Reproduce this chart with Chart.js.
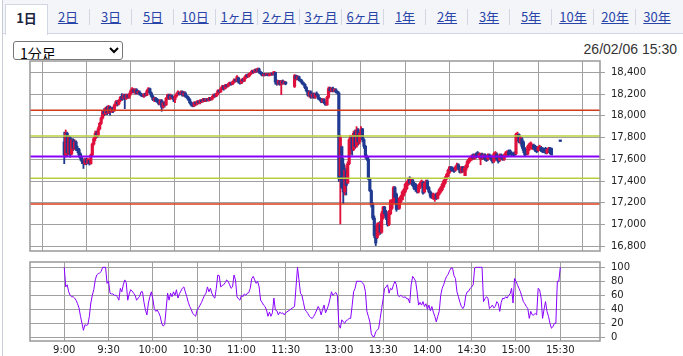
<!DOCTYPE html>
<html><head><meta charset="utf-8">
<script src="https://cdn.jsdelivr.net/npm/chart.js@4.4.1/dist/chart.umd.min.js"></script>
<style>
html,body{margin:0;padding:0;background:#fff;width:683px;height:356px;overflow:hidden;font-family:"Liberation Sans",Arial,sans-serif;}
#page{position:relative;width:683px;height:356px;}
#leftline{position:absolute;left:2px;top:0;width:1px;height:356px;background:#c9cdd8;}
#tabs{position:absolute;left:3px;top:0;width:680px;height:33px;background:#f4f5f9;border-bottom:1px solid #d2d6e2;}
.tab{position:absolute;top:9px;height:16px;width:42px;text-align:center;font:13px/16px "Noto Sans CJK JP",sans-serif;color:#2a45a8;}
.tab span{text-decoration:underline;}
.tab.sep{border-left:1px solid #d2d6e2;}
.tab.active{top:4px;height:30px;width:41px;background:#fff;border:1px solid #d2d6e2;border-bottom:none;line-height:26px;color:#1a2340;font-weight:bold;}
.tab.active span{text-decoration:none;}
#sel{position:absolute;left:13px;top:41px;width:110px;height:19px;font:14px "Noto Sans CJK JP",sans-serif;padding:0 2px;border:1px solid #767676;border-radius:3px;background:#fff;color:#000;}
#date{position:absolute;right:6px;top:41px;font:14px "Liberation Sans",Arial,sans-serif;color:#333;}
canvas{position:absolute;left:0;}
</style></head>
<body><div id="page">
<div id="tabs"></div>
<div id="leftline"></div>
<select id="sel"><option>1分足</option></select>
<div id="date">26/02/06 15:30</div>
<canvas id="c1" width="683" height="200" style="top:55px"></canvas>
<canvas id="c2" width="683" height="100" style="top:256px"></canvas>
</div>
<script>
// ---------- data ----------
const tabLabels = ['1日','2日','3日','5日','10日','1ヶ月','2ヶ月','3ヶ月','6ヶ月','1年','2年','3年','5年','10年','20年','30年'];
const timeLabels = ['9:00','9:30','10:00','10:30','11:00','11:30','13:00','13:30','14:00','14:30','15:00','15:30'];
const priceTicks = [16800,17000,17200,17400,17600,17800,18000,18200,18400];
const oscTicks = [0,20,40,60,80,100];
const levelValues = [18052,17815,17625,17425,17190];

// morning session, one entry per minute from 9:00
const amOpen = [
17760,17640,17840,17660,17800,17650,17780,17700,17760,17700,
17690,17650,17610,17580,17560,17600,17570,17590,17560,17640,
17740,17790,17840,17820,17880,17930,17980,18040,18020,18070,
18030,18080,18040,18070,18050,18100,18120,18110,18140,18180,
18160,18190,18160,18190,18170,18200,18220,18240,18220,18240,
18210,18220,18200,18190,18180,18200,18190,18230,18250,18210,
18180,18150,18160,18140,18130,18110,18140,18080,18120,18100,
18160,18190,18160,18180,18170,18150,18180,18200,18210,18200,
18220,18190,18210,18180,18170,18150,18120,18100,18090,18120,
18110,18130,18120,18140,18130,18150,18140,18150,18140,18160,
18150,18170,18190,18180,18200,18230,18220,18250,18270,18250,
18280,18270,18290,18300,18290,18310,18330,18320,18350,18310,
18300,18330,18320,18350,18370,18360,18380,18390,18410,18400,
18420,18410,18430,18400,18390,18370,18380,18375,18380,18370,
18380,18385,18380,18400,18310,18300,18320,18290,18320,18300,
18310];
const amHigh = [
17850,17870,17850,17820,17810,17790,17790,17780,17770,17720,
17700,17660,17620,17590,17610,17610,17610,17600,17650,17750,
17800,17860,17860,17898,17940,17990,18050,18066,18080,18090,
18097,18090,18080,18080,18110,18140,18143,18150,18180,18204,
18200,18200,18200,18200,18210,18240,18260,18250,18250,18250,
18235,18230,18210,18200,18204,18210,18240,18260,18255,18220,
18190,18170,18170,18160,18150,18150,18150,18130,18130,18170,
18200,18200,18200,18190,18180,18190,18210,18230,18220,18230,
18230,18225,18220,18190,18180,18160,18130,18120,18130,18130,
18140,18140,18150,18150,18160,18160,18158,18160,18170,18170,
18180,18200,18204,18210,18240,18240,18260,18281,18280,18290,
18290,18300,18311,18310,18320,18341,18340,18370,18355,18320,
18340,18345,18360,18380,18385,18390,18400,18420,18420,18430,
18433,18440,18439,18410,18400,18390,18390,18387,18390,18387,
18390,18395,18409,18403,18330,18327,18325,18325,18330,18320,
18315];
const amLow = [
17560,17620,17630,17640,17620,17640,17680,17690,17680,17660,
17620,17590,17560,17516,17550,17550,17560,17547,17555,17630,
17730,17770,17800,17810,17870,17920,17970,18000,18010,18010,
18020,18006,18030,18030,18040,18090,18090,18100,18130,18140,
18150,18066,18150,18160,18160,18190,18210,18210,18200,18200,
18200,18190,18180,18174,18170,18180,18185,18220,18200,18170,
18140,18130,18128,18120,18100,18100,18042,18070,18080,18095,
18150,18150,18150,18160,18130,18120,18170,18190,18190,18195,
18180,18180,18170,18160,18140,18110,18090,18082,18085,18095,
18100,18110,18110,18120,18125,18130,18130,18135,18135,18140,
18145,18160,18170,18175,18190,18210,18215,18240,18235,18245,
18260,18265,18280,18281,18285,18300,18310,18315,18300,18290,
18295,18310,18315,18340,18350,18355,18370,18385,18390,18395,
18400,18405,18390,18380,18366,18366,18366,18370,18366,18366,
18372,18372,18375,18290,18281,18285,18281,18195,18290,18290,
18285];
const amClose = [
17640,17840,17660,17800,17650,17780,17700,17760,17700,17680,
17640,17610,17580,17560,17600,17570,17600,17560,17640,17740,
17790,17840,17820,17880,17930,17980,18040,18020,18070,18030,
18080,18040,18070,18050,18100,18130,18110,18140,18170,18150,
18180,18160,18190,18170,18200,18230,18250,18220,18240,18210,
18220,18200,18190,18180,18200,18190,18230,18250,18210,18180,
18150,18160,18140,18130,18110,18140,18080,18120,18100,18160,
18190,18160,18180,18170,18150,18180,18200,18220,18200,18220,
18190,18210,18180,18170,18150,18120,18100,18090,18120,18110,
18130,18120,18140,18130,18150,18140,18150,18140,18160,18150,
18170,18190,18180,18200,18230,18220,18250,18270,18250,18280,
18270,18290,18300,18290,18310,18330,18320,18360,18310,18300,
18330,18320,18350,18370,18360,18380,18390,18410,18400,18420,
18410,18430,18400,18390,18370,18380,18375,18380,18370,18380,
18385,18380,18405,18310,18300,18320,18290,18320,18300,18310,
18295];

// afternoon session, one entry per minute from 12:30 to 15:30
const pmOpen = [
18270,18370,18340,18360,18330,18320,18300,18290,18260,18230,
18190,18220,18180,18200,18170,18200,18190,18160,18150,18130,
18150,18120,18100,18170,18250,18230,18250,18230,18240,18220,
18210,17450,17715,17560,17300,17500,17380,17560,17700,17810,
17690,17850,17720,17870,17760,17830,17880,17780,17720,17620,
17600,17420,17310,17180,17060,16950,16880,16920,17000,16930,
17060,17160,17120,17080,17000,17100,17150,17200,17340,17280,
17220,17150,17210,17230,17270,17300,17330,17370,17420,17380,
17410,17380,17370,17350,17300,17340,17360,17390,17300,17370,
17400,17340,17300,17280,17240,17250,17280,17240,17280,17300,
17320,17350,17380,17420,17450,17480,17530,17520,17510,17500,
17520,17550,17520,17480,17530,17490,17500,17530,17570,17590,
17600,17640,17610,17650,17660,17620,17600,17650,17610,17640,
17630,17600,17640,17630,17610,17580,17600,17650,17620,17590,
17640,17630,17600,17630,17640,17670,17680,17660,17650,17660,
17650,17780,17830,17760,17790,17760,17700,17680,17650,17690,
17710,17700,17730,17720,17710,17680,17690,17710,17700,17690,
17700,17660,17670,17700,17700,null,null,null,null,null,
17775];
const pmHigh = [
18380,18375,18370,18365,18340,18330,18310,18296,18270,18235,
18230,18230,18210,18210,18210,18220,18200,18170,18160,18160,
18158,18130,18180,18265,18265,18260,18265,18250,18250,18230,
18220,17822,17720,17608,17547,17520,17577,17791,17822,17820,
17860,17870,17900,17883,17850,17901,17885,17790,17730,17640,
17626,17430,17320,17200,17080,16985,17015,17020,17030,17120,
17168,17168,17130,17100,17130,17229,17229,17351,17350,17290,
17240,17250,17270,17310,17330,17380,17397,17428,17440,17428,
17420,17390,17380,17360,17370,17390,17410,17400,17390,17410,
17410,17350,17310,17290,17290,17280,17290,17300,17330,17350,
17382,17410,17443,17470,17510,17534,17534,17530,17520,17540,
17565,17560,17530,17534,17534,17530,17550,17590,17610,17630,
17642,17650,17650,17660,17672,17660,17657,17657,17650,17650,
17640,17650,17650,17640,17620,17660,17672,17660,17630,17650,
17650,17640,17650,17672,17680,17687,17687,17670,17660,17670,
17841,17850,17835,17810,17800,17770,17710,17690,17730,17749,
17760,17740,17740,17730,17720,17720,17730,17720,17710,17700,
17710,17700,17710,17710,17705,null,null,null,null,null,
17775];
const pmLow = [
18260,18330,18330,18320,18311,18290,18280,18250,18220,18180,
18170,18160,18165,18160,18160,18180,18150,18140,18120,18120,
18110,18097,18097,18160,18220,18220,18220,18220,18210,18200,
17396,17006,17333,17195,17272,17272,17380,17550,17650,17639,
17680,17700,17710,17731,17740,17820,17760,17700,17611,17590,
17412,17305,17160,17045,16878,16807,16870,16900,16910,16920,
17050,17080,17045,16985,16990,17090,17140,17190,17229,17122,
17140,17140,17200,17225,17260,17290,17320,17360,17370,17370,
17350,17320,17305,17290,17290,17330,17350,17280,17290,17360,
17320,17290,17244,17240,17230,17213,17230,17235,17270,17290,
17310,17340,17370,17410,17440,17470,17489,17490,17480,17490,
17510,17500,17474,17474,17480,17450,17450,17520,17560,17580,
17590,17600,17600,17611,17620,17610,17550,17600,17600,17590,
17580,17590,17610,17590,17565,17570,17590,17590,17565,17580,
17600,17590,17590,17620,17630,17630,17640,17630,17626,17630,
17640,17770,17750,17740,17700,17660,17626,17640,17640,17680,
17700,17690,17690,17670,17660,17670,17680,17670,17660,17660,
17650,17650,17660,17650,17642,null,null,null,null,null,
17765];
const pmClose = [
18370,18340,18360,18330,18320,18300,18290,18260,18230,18190,
18220,18180,18200,18170,18200,18190,18160,18150,18130,18150,
18120,18100,18170,18250,18230,18250,18230,18240,18220,18210,
17420,17800,17340,17300,17500,17360,17560,17780,17820,17690,
17840,17720,17870,17760,17840,17880,17780,17720,17630,17600,
17420,17310,17180,17060,16900,16830,17000,17010,16930,17100,
17160,17100,17060,17000,17120,17220,17200,17340,17250,17140,
17150,17240,17260,17300,17320,17370,17390,17410,17380,17420,
17360,17330,17320,17300,17360,17380,17400,17290,17380,17400,
17330,17300,17260,17250,17280,17270,17240,17290,17320,17340,
17370,17400,17430,17460,17500,17530,17500,17500,17490,17530,
17550,17510,17480,17530,17490,17520,17540,17580,17600,17620,
17630,17610,17640,17620,17630,17650,17650,17610,17640,17600,
17590,17640,17620,17600,17580,17650,17660,17600,17580,17640,
17610,17600,17640,17660,17670,17640,17650,17640,17630,17640,
17830,17830,17760,17800,17720,17680,17640,17650,17720,17740,
17750,17730,17700,17680,17670,17710,17720,17680,17670,17670,
17660,17690,17700,17660,17640,null,null,null,null,null,
17765];

// oscillator (0-100), same minutes as the candles
const amOsc = [
100,72,75,65,60,58,58,56,53,48,
42,30,20,10,18,17,18,30,49,60,
68,82,89,91,92,94,100,100,100,77,
80,63,62,62,60,60,58,53,70,65,
75,82,78,53,62,68,66,63,60,53,
56,58,65,65,50,39,32,49,58,65,
55,41,37,39,35,30,20,16,18,40,
63,53,63,58,65,60,68,56,62,66,
70,72,65,58,50,44,40,34,32,30,
39,42,46,50,55,60,63,72,65,70,
63,58,56,70,89,88,72,74,75,78,
82,80,75,70,72,89,82,58,55,53,
60,58,62,60,63,64,70,84,87,82,
77,80,72,53,50,46,44,39,30,36,
30,35,56,39,38,32,36,34,35,32,
35];
const pmOsc = [
44,72,100,82,63,60,50,40,37,34,
30,28,27,30,34,39,44,40,32,40,
46,35,40,46,55,65,60,62,64,60,
18,13,25,22,20,24,25,27,27,45,
65,70,80,80,80,80,78,75,65,37,
30,22,5,1,1,8,10,13,27,41,
55,70,72,75,63,70,68,75,80,75,
60,58,60,58,57,58,55,55,49,75,
87,84,80,65,46,50,46,51,44,48,
40,46,38,44,36,30,22,30,37,60,
70,75,82,87,90,95,99,99,88,84,
65,58,50,44,41,45,60,65,66,70,
72,75,99,100,100,100,100,100,51,55,
58,56,41,43,46,42,44,51,48,37,
50,56,55,58,56,60,62,70,49,84,
80,75,70,65,58,51,48,44,41,27,
37,32,32,34,32,70,68,56,27,40,
51,37,30,20,13,15,20,20,80,80,
100];

// ---------- styles / layout ----------
const UP = '#e0103c', DOWN = '#1f3a90';
const levelColors = ['#cf3a1a','#b9d03e','#8a00ff','#b9d03e','#dc3c18'];
const levelWidths = [1.5,1.5,2,1.5,1.5];
const GRID = '#a0a0a0';
const AM_START = 0, PM_START = 156;           // axis position of 9:00 and 12:30
const X_MIN = -23.2, X_MAX = 362.9;

// tabs
const tabsEl = document.getElementById('tabs');
tabLabels.forEach((t,i)=>{
  const d = document.createElement('div');
  d.className = 'tab' + (i===0 ? ' active' : (i>=2 ? ' sep' : ''));
  d.style.left = (2 + 42*i) + 'px';
  d.innerHTML = '<span>'+t+'</span>';
  tabsEl.appendChild(d);
});

function timeToPos(s){
  const [h,m] = s.split(':').map(Number);
  const t = h*60+m;
  return t <= 690 ? AM_START + (t-540) : PM_START + (t-750);
}
const xTickVals = timeLabels.map(timeToPos);

const candles = [];
function addSession(start,o,h,l,c){
  for(let i=0;i<o.length;i++){
    if(o[i]==null) continue;
    candles.push({x:start+i,o:o[i],h:h[i],l:l[i],c:c[i]});
  }
}
addSession(AM_START,amOpen,amHigh,amLow,amClose);
addSession(PM_START,pmOpen,pmHigh,pmLow,pmClose);
const candleColors = candles.map(k=>k.c>k.o?UP:DOWN);

const osc = [];
amOsc.forEach((v,i)=>osc.push({x:AM_START+i,y:v}));
pmOsc.forEach((v,i)=>osc.push({x:PM_START+i,y:v}));

Chart.defaults.font.family = '"DejaVu Sans", sans-serif';
Chart.defaults.font.size = 10;
Chart.defaults.color = '#222';

const framePlugin = {
  id:'frame',
  afterDraw(chart){
    const a = chart.chartArea, ctx = chart.ctx;
    ctx.save();
    ctx.strokeStyle = '#999'; ctx.lineWidth = 1.5;
    ctx.strokeRect(a.left, a.top, a.right-a.left, a.bottom-a.top);
    ctx.restore();
  }
};

function xScale(showLabels){
  return {
    type:'linear', min:X_MIN, max:X_MAX, offset:false,
    afterBuildTicks(s){ s.ticks = xTickVals.map(v=>({value:v})); },
    afterFit(s){ s.height = showLabels ? 15 : 0; s.paddingLeft=0; s.paddingRight=0; },
    grid:{color:GRID, lineWidth:1, drawTicks:false},
    border:{display:false},
    ticks:{display:showLabels, autoSkip:false, maxRotation:0, padding:3, color:'#222',
      callback:(v)=>{ const i = xTickVals.indexOf(v); return i>=0 ? timeLabels[i] : ''; }}
  };
}
function yScale(min,max,tickVals,fmt){
  return {
    type:'linear', position:'right', min, max,
    afterBuildTicks(s){ s.ticks = tickVals.map(v=>({value:v})); },
    afterFit(s){ s.width = 83; s.paddingTop=0; s.paddingBottom=0; },
    grid:{color:GRID, lineWidth:1, drawTicks:true, tickLength:5},
    border:{display:false},
    ticks:{padding:6, color:'#222', callback:fmt}
  };
}

new Chart(document.getElementById('c1'),{
  type:'bar',
  data:{datasets:[
    ...levelValues.map((v,i)=>({type:'line', order:0, data:[{x:X_MIN,y:v},{x:X_MAX,y:v}],
      borderColor:levelColors[i], borderWidth:levelWidths[i], pointRadius:0})),
    {type:'bar', order:1, grouped:false, data:candles.map(k=>({x:k.x,y:[k.o,k.c]})),
      backgroundColor:candleColors, barThickness:2.5, minBarLength:1.5, borderWidth:0},
    {type:'bar', order:2, grouped:false, data:candles.map(k=>({x:k.x,y:[k.l,k.h]})),
      backgroundColor:candleColors, barThickness:1.2, borderWidth:0}
  ]},
  options:{
    responsive:false, animation:false, devicePixelRatio:1,
    layout:{padding:{left:30,right:0,top:6,bottom:4}},
    plugins:{legend:{display:false}, tooltip:{enabled:false}},
    scales:{
      x: xScale(false),
      y: yScale(16757,18504,priceTicks,(v)=>v.toLocaleString('en-US'))
    }
  },
  plugins:[framePlugin]
});

new Chart(document.getElementById('c2'),{
  type:'line',
  data:{datasets:[{data:osc, borderColor:'#8a00ff', borderWidth:1, pointRadius:0, tension:0}]},
  options:{
    responsive:false, animation:false, devicePixelRatio:1,
    layout:{padding:{left:30,right:0,top:6,bottom:0}},
    plugins:{legend:{display:false}, tooltip:{enabled:false}},
    scales:{
      x: xScale(true),
      y: yScale(-5.3,107.6,oscTicks,(v)=>String(v))
    }
  },
  plugins:[framePlugin]
});
</script>
</body></html>
